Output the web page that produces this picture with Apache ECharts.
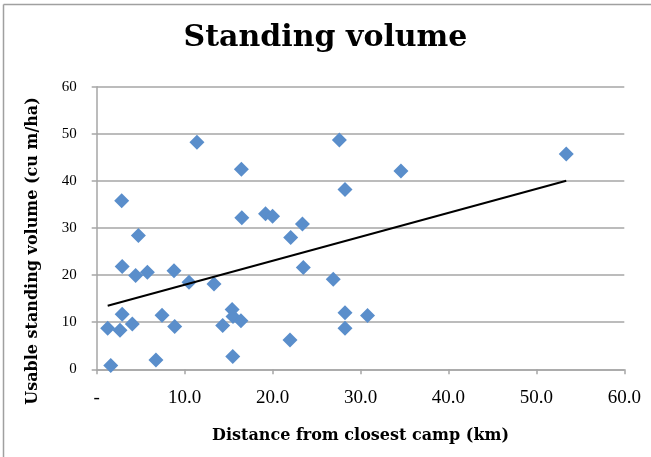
<!DOCTYPE html>
<html>
<head>
<meta charset="utf-8">
<script src="https://cdn.jsdelivr.net/npm/echarts@6/dist/echarts.min.js"></script>
<style>
  html, body { margin: 0; padding: 0; background: #fff; }
  #chart { width: 651px; height: 457px; }
</style>
</head>
<body>
<div id="chart"></div>
<script>
// Distance from closest camp (km)
var distanceKm = [1.25, 1.6, 2.65, 2.84, 2.9, 2.9, 4.05, 4.43, 4.74, 5.76, 6.74, 7.43, 8.79, 8.87, 10.5, 11.4, 13.34, 14.33, 15.4, 15.47, 15.5, 16.4, 16.45, 16.5, 19.2, 20.0, 21.98, 22.06, 23.4, 23.5, 26.9, 27.6, 28.24, 28.24, 28.24, 30.8, 34.6, 53.4];
// Usable standing volume (cu m/ha)
var standingVolume = [8.7, 0.8, 8.3, 35.8, 21.8, 11.7, 9.6, 19.9, 28.4, 20.6, 2.0, 11.5, 20.9, 9.1, 18.5, 48.2, 18.1, 9.3, 12.7, 2.7, 11.2, 10.3, 42.5, 32.2, 33.0, 32.5, 6.2, 28.0, 30.85, 21.6, 19.1, 48.7, 38.2, 12.0, 8.7, 11.4, 42.1, 45.7];
var xTickLabels = ['-', '10.0', '20.0', '30.0', '40.0', '50.0', '60.0'];
var yTickLabels = ['0', '10', '20', '30', '40', '50', '60'];

var points = distanceKm.map(function (x, i) { return [x, standingVolume[i]]; });

// Linear least-squares trendline (as in the spreadsheet), spanning the data range
var n = distanceKm.length, sx = 0, sy = 0, sxx = 0, sxy = 0;
for (var i = 0; i < n; i++) {
  sx += distanceKm[i]; sy += standingVolume[i];
  sxx += distanceKm[i] * distanceKm[i]; sxy += distanceKm[i] * standingVolume[i];
}
var slope = (n * sxy - sx * sy) / (n * sxx - sx * sx);
var intercept = (sy - slope * sx) / n;
var xMin = Math.min.apply(null, distanceKm), xMax = Math.max.apply(null, distanceKm);
var trend = [[xMin, intercept + slope * xMin], [xMax, intercept + slope * xMax]];

var chart = echarts.init(document.getElementById('chart'), null, { renderer: 'canvas' });
var gridColor = '#a6a6a6';
chart.setOption({
  animation: false,
  backgroundColor: '#fff',
  title: {
    text: 'Standing volume',
    left: 'center',
    top: 18,
    textStyle: { fontFamily: 'DejaVu Serif', fontWeight: 'bold', fontSize: 30, color: '#000' }
  },
  graphic: [
    { type: 'line', silent: true, shape: { x1: 3.5, y1: 4.5, x2: 651, y2: 4.5 },
      style: { stroke: '#a0a0a0', lineWidth: 1.5 } },
    { type: 'line', silent: true, shape: { x1: 3.5, y1: 4.5, x2: 3.5, y2: 457 },
      style: { stroke: '#a0a0a0', lineWidth: 1.5 } },
    { type: 'text', silent: true, x: 33, y: 251, rotation: Math.PI / 2,
      style: { text: 'Usable standing volume (cu m/ha)', fontFamily: 'DejaVu Serif', fontWeight: 'bold',
               fontSize: 16, fill: '#000', align: 'center', verticalAlign: 'middle' } }
  ],
  grid: { left: 96.7, right: 26.7, top: 86.7, bottom: 87.7, containLabel: false },
  xAxis: {
    type: 'value', min: 0, max: 60, interval: 10,
    name: 'Distance from closest camp (km)',
    nameLocation: 'middle', nameGap: 59,
    nameTextStyle: { fontFamily: 'DejaVu Serif', fontWeight: 'bold', fontSize: 16, color: '#000' },
    axisLine: { show: true, onZero: false, lineStyle: { color: gridColor, width: 1.5 } },
    axisTick: { show: true, inside: false, length: 5, lineStyle: { color: gridColor, width: 1.5 } },
    splitLine: { show: false },
    axisLabel: {
      margin: 19,
      fontFamily: 'Liberation Serif', fontSize: 19, color: '#000',
      formatter: function (v, idx) { return xTickLabels[Math.round(v / 10)]; }
    }
  },
  yAxis: {
    type: 'value', min: 0, max: 60, interval: 10,
    axisLine: { show: true, lineStyle: { color: gridColor, width: 1.5 } },
    axisTick: { show: true, inside: false, length: 5, lineStyle: { color: gridColor, width: 1.5 } },
    splitLine: { show: true, lineStyle: { color: gridColor, width: 1.5 } },
    axisLabel: {
      margin: 20,
      fontFamily: 'Liberation Serif', fontSize: 15, color: '#000',
      formatter: function (v) { return yTickLabels[Math.round(v / 10)]; }
    }
  },
  series: [
    {
      type: 'scatter', data: points, symbol: 'diamond', symbolSize: 15,
      itemStyle: { color: '#5a8ecb', opacity: 1 }, z: 3
    },
    {
      type: 'line', data: trend, symbol: 'none', z: 4,
      lineStyle: { color: '#000', width: 2 }
    }
  ]
});
</script>
</body>
</html>
